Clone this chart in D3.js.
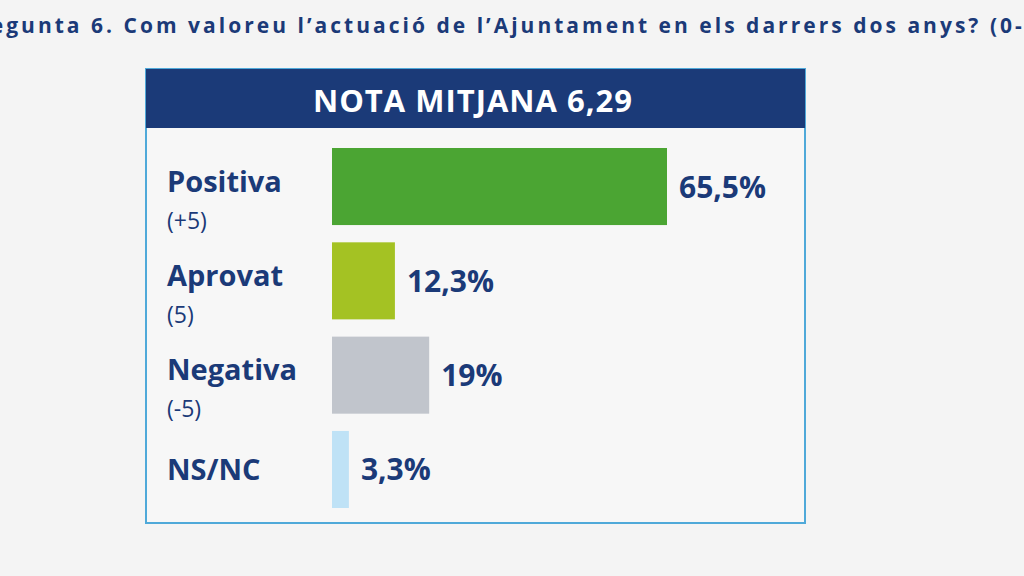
<!DOCTYPE html>
<html><head><meta charset="utf-8">
<script src="https://cdn.jsdelivr.net/npm/d3@7"></script>
<style>body{margin:0;background:#f4f4f4;overflow:hidden}svg{display:block}</style>
</head><body>
<script>
const title = "Pregunta 6. Com valoreu l’actuació de l’Ajuntament en els darrers dos anys? (0-10)";
const header = "NOTA MITJANA 6,29";
const categories = ["Positiva","Aprovat","Negativa","NS/NC"];
const subLabels = ["(+5)","(5)","(-5)",""];
const values = [65.5,12.3,19,3.3];
const valueLabels = ["65,5%","12,3%","19%","3,3%"];
const colors = ["#4ba533","#a4c223","#c1c5cc","#bfe2f6"];

const W=1024,H=576, navy="#1b3a78", F="'Open Sans', sans-serif";
const svg=d3.select("body").append("svg").attr("width",W).attr("height",H);
svg.append("rect").attr("width",W).attr("height",H).attr("fill","#f4f4f4");
svg.append("text").attr("x",512).attr("y",33).attr("text-anchor","middle")
  .attr("font-family",F).attr("font-weight","bold").attr("font-size",21)
  .attr("textLength",1100).attr("lengthAdjust","spacing")
  .attr("fill",navy).text(title);
// box
svg.append("rect").attr("x",146).attr("y",69).attr("width",659).attr("height",454)
  .attr("fill","#f7f7f7").attr("stroke","#4fa9d9").attr("stroke-width",2);
svg.append("rect").attr("x",146).attr("y",69).attr("width",659).attr("height",59).attr("fill",navy);
svg.append("text").attr("x",473).attr("y",112).attr("text-anchor","middle")
  .attr("font-family",F).attr("font-weight","bold").attr("font-size",31)
  .attr("fill","#fff").attr("letter-spacing",1).text(header);

const x=d3.scaleLinear().domain([0,65.5]).range([332,667]);
const y=d3.scaleBand().domain(categories).range([148,508]).paddingInner(0.183).paddingOuter(0);
const g=svg.append("g");
categories.forEach((c,i)=>{
  const yy=y(c), h=y.bandwidth();
  g.append("rect").attr("x",x(0)).attr("y",yy).attr("width",x(values[i])-x(0)).attr("height",h).attr("fill",colors[i]);
  g.append("text").attr("x",x(values[i])+12).attr("y",yy+h/2+11)
    .attr("font-family",F).attr("font-weight","bold").attr("font-size",30).attr("fill",navy).text(valueLabels[i]);
  const hasSub=subLabels[i]!=="";
  g.append("text").attr("x",167).attr("y",hasSub?yy+h/2+9-4:yy+h/2+11)
    .attr("font-family",F).attr("font-weight","bold").attr("font-size",29).attr("fill",navy).text(c);
  if(hasSub) g.append("text").attr("x",167).attr("y",yy+h/2+42)
    .attr("font-family",F).attr("font-size",23).attr("fill",navy).text(subLabels[i]);
});
</script>
</body></html>
